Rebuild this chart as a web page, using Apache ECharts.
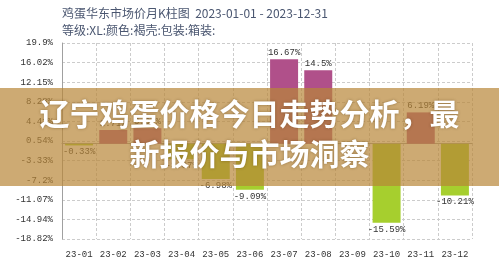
<!DOCTYPE html>
<html>
<head>
<meta charset="utf-8">
<script src="https://cdn.jsdelivr.net/npm/echarts@6/dist/echarts.min.js"></script>
<style>
  html, body { margin: 0; padding: 0; background: #fff; }
  #chart { width: 499px; height: 275px; }
</style>
</head>
<body>
<div id="chart"></div>
<script>
// Monthly change of the East China egg price, 2023
const months = ['23-01', '23-02', '23-03', '23-04', '23-05', '23-06',
                '23-07', '23-08', '23-09', '23-10', '23-11', '23-12'];
const changes = [-0.33, 2.71, 3.07, -3.07, -6.98, -9.09,
                 16.67, 14.5, '-', -15.59, 6.19, -10.21];

// Value axis range and its printed tick labels
const axisMin = -18.82;
const axisMax = 19.9;
const axisStep = 3.872;
const tickLabels = ['-18.82%', '-14.94%', '-11.07%', '-7.2%', '-3.33%', '0.54%',
                    '4.41%', '8.28%', '12.15%', '16.02%', '19.9%'];

const titleText = '鸡蛋华东市场价月K柱图  2023-01-01 - 2023-12-31';
const subtitleText = '等级:XL:颜色:褐壳:包装:箱装:';
const bannerLines = ['辽宁鸡蛋价格今日走势分析，最', '新报价与市场洞察'];

const upColor = '#b0508a';
const downColor = '#a6cf2e';
const monoFont = '"Liberation Mono", "DejaVu Sans Mono", monospace';

const chart = echarts.init(document.getElementById('chart'), null, { renderer: 'canvas' });

const barData = changes.map(v => {
  if (v === '-') return v;
  return {
    value: v,
    itemStyle: { color: v >= 0 ? upColor : downColor },
    label: { position: v >= 0 ? 'top' : 'bottom' }
  };
});

chart.setOption({
  animation: false,
  backgroundColor: '#ffffff',
  grid: { left: 62, right: 27, top: 43, bottom: 36 },
  xAxis: {
    type: 'category',
    data: months,
    axisLine: { lineStyle: { color: '#a0a0a0', width: 1 } },
    axisTick: { show: false },
    axisLabel: { interval: 0, color: '#333', fontFamily: monoFont, fontSize: 9, margin: 11 },
    splitLine: { show: true, interval: 0, lineStyle: { color: '#cccccc', type: [3, 2] } }
  },
  yAxis: {
    type: 'value',
    min: axisMin,
    max: axisMax,
    interval: axisStep,
    axisLine: { show: true, lineStyle: { color: '#a0a0a0', width: 1 } },
    axisTick: { show: false },
    axisLabel: {
      color: '#333', fontFamily: monoFont, fontSize: 9, margin: 9,
      formatter: v => tickLabels[Math.round((v - axisMin) / axisStep)] || ''
    },
    splitLine: { show: true, lineStyle: { color: '#cccccc', type: [3, 2] } }
  },
  series: [{
    type: 'bar',
    data: barData,
    barWidth: 28,
    label: {
      show: true,
      color: '#333',
      fontFamily: monoFont,
      fontSize: 9,
      distance: 2,
      formatter: p => p.value + '%'
    }
  }],
  graphic: [
    {
      type: 'text', left: 62, top: 7,
      style: { text: titleText, fill: '#4a5670', font: '12px "Noto Sans CJK SC"' }
    },
    {
      type: 'text', left: 62, top: 24,
      style: { text: subtitleText, fill: '#4a5670', font: '12px "Noto Sans CJK SC"' }
    },
    {
      type: 'rect', left: 0, top: 88, z: 100,
      shape: { width: 499, height: 98 },
      style: { fill: 'rgba(184,134,55,0.7)' }
    },
    {
      type: 'text', left: 'center', top: 99, z: 101,
      style: {
        text: bannerLines[0], fill: '#ffffff',
        font: 'bold 30px "Noto Sans CJK SC"',
        textShadowColor: 'rgba(80,50,10,0.45)', textShadowBlur: 3
      }
    },
    {
      type: 'text', left: 'center', top: 139, z: 101,
      style: {
        text: bannerLines[1], fill: '#ffffff',
        font: 'bold 30px "Noto Sans CJK SC"',
        textShadowColor: 'rgba(80,50,10,0.45)', textShadowBlur: 3
      }
    }
  ]
});
</script>
</body>
</html>
